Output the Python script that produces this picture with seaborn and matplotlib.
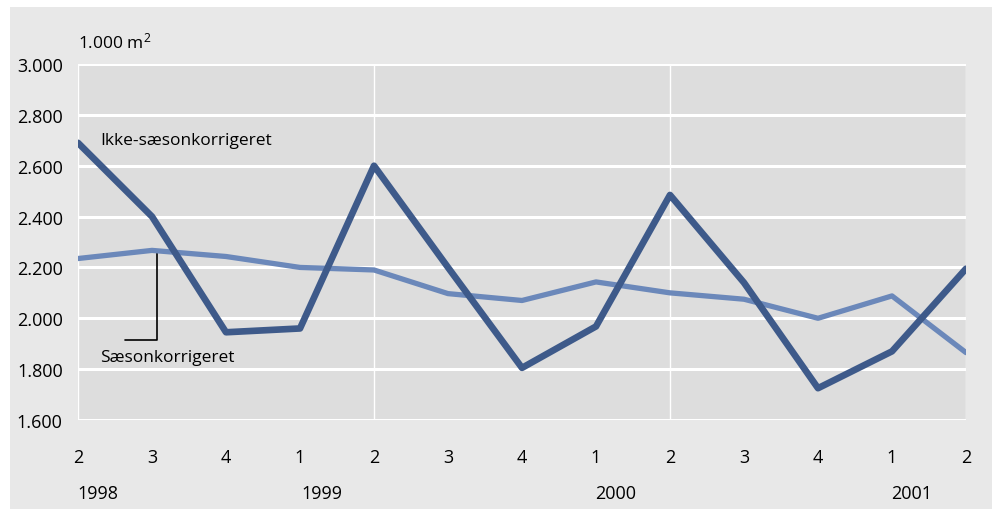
import pandas as pd
import matplotlib.pyplot as plt
import matplotlib.patches as mpatches
import seaborn as sns

# ================================================================
quarters = ["2", "3", "4", "1", "2", "3", "4", "1", "2", "3", "4", "1", "2"]
ikke_saeson = [2690, 2400, 1945, 1960, 2600, 2200, 1805, 1968, 2485, 2140, 1725, 1870, 2195]
saeson = [2235, 2267, 2243, 2200, 2190, 2097, 2070, 2143, 2100, 2075, 2000, 2088, 1865]
years = ["1998", "1999", "2000", "2001"]
yticks = [1600, 1800, 2000, 2200, 2400, 2600, 2800, 3000]
# ================================================================

DARK = "#3e5a8a"
LIGHT = "#6b88ba"

n = len(quarters)
df = pd.DataFrame({
    "t": list(range(n)) * 2,
    "value": ikke_saeson + saeson,
    "serie": ["Ikke-sæsonkorrigeret"] * n + ["Sæsonkorrigeret"] * n,
})

sns.set_theme(style="white")
plt.rcParams["font.family"] = ["Open Sans", "DejaVu Sans"]
plt.rcParams["mathtext.default"] = "regular"
plt.rcParams["text.color"] = "black"
plt.rcParams["xtick.color"] = "black"
plt.rcParams["ytick.color"] = "black"

fig = plt.figure(figsize=(9.97, 5.10), dpi=100)
fig.patch.set_facecolor("white")
fig.patches.append(mpatches.Rectangle((10 / 997, 0), 982 / 997, 502 / 510, transform=fig.transFigure,
                                      facecolor="#e8e8e8", edgecolor="none", zorder=-10))
ax = fig.add_axes([78 / 997, 1 - 421 / 510, 888 / 997, 356 / 510])
ax.set_facecolor("#dddddd")

sns.lineplot(ax=ax, data=df, x="t", y="value", hue="serie", size="serie",
             palette={"Ikke-sæsonkorrigeret": DARK, "Sæsonkorrigeret": LIGHT},
             sizes={"Ikke-sæsonkorrigeret": 4.8, "Sæsonkorrigeret": 3.8},
             hue_order=["Sæsonkorrigeret", "Ikke-sæsonkorrigeret"], legend=False)

ax.set_xlim(0, n - 1)
ax.set_ylim(1600, 3000)
ax.set_yticks(yticks)
ax.set_yticklabels([f"{v:,}".replace(",", ".") for v in yticks], fontsize=13)
ax.set_xticks(range(n))
ax.set_xticklabels(quarters, fontsize=13)
ax.tick_params(axis="x", length=0, pad=20)
ax.tick_params(axis="y", length=0, pad=11)
ax.set_xlabel("")
ax.set_ylabel("")
for s in ax.spines.values():
    s.set_visible(False)

# grid
for v in yticks:
    ax.axhline(v, color="white", lw=2.2, zorder=0.5)
for x in [0, 4, 8, 12]:
    ax.axvline(x, color="white", lw=1.0, zorder=0.5)

# year labels
for lab, xp in zip(years, [0.27, 3.3, 7.27, 11.27]):
    ax.text(xp, -0.205, lab, transform=ax.get_xaxis_transform(), ha="center", va="center", fontsize=13)

# unit
fig.text(78 / 997, 1 - 42 / 510, "1.000 m$^2$", ha="left", va="center", fontsize=12.5)

# annotations
ax.text(0.3, 2700, "Ikke-sæsonkorrigeret", ha="left", va="center", fontsize=12.5)
ax.text(0.3, 1848, "Sæsonkorrigeret", ha="left", va="center", fontsize=12.5)
ax.plot([0.64, 1.07, 1.07], [1914, 1914, 2262], color="black", lw=1.2, zorder=1)

plt.savefig("out.png", dpi=100)
